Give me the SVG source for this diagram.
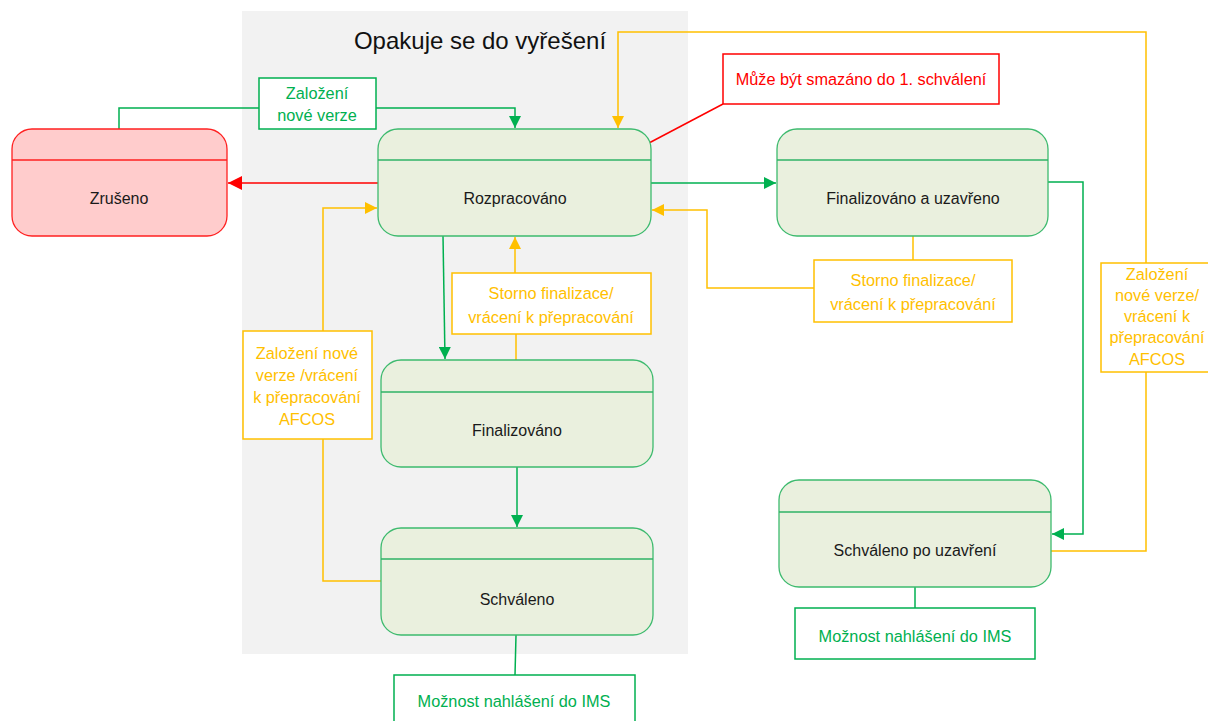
<svg xmlns="http://www.w3.org/2000/svg" width="1208" height="721" viewBox="0 0 1208 721">
  <style>
    text { font-family: "Liberation Sans", Arial, sans-serif; text-anchor: middle; }
    .state rect { fill: #EAF0DE; stroke: #3DBA6E; stroke-width: 1.3; }
    .state line { stroke: #2FB366; stroke-width: 1.3; }
    .state text { fill: #1a1a1a; font-size: 16px; }
    .cancel rect { fill: #FFCCCC; stroke: #FF2020; }
    .cancel line { stroke: #FF2020; }
    .lbl rect { fill: #FFFFFF; stroke-width: 1.5; }
    .lbl text { font-size: 16.3px; }
    .g rect { stroke: #00B050; } .g text { fill: #00B050; }
    .y rect { stroke: #FFC000; } .y text { fill: #FFC000; }
    .r rect { stroke: #FF0000; } .r text { fill: #FF0000; }
    .c { fill: none; stroke-width: 1.5; }
    .cg { stroke: #00B050; } .cy { stroke: #FFC000; } .cr { stroke: #FF0000; }
  </style>
  <defs>
    <marker id="ag" viewBox="0 0 10 10" refX="10" refY="5" markerWidth="13" markerHeight="12" markerUnits="userSpaceOnUse" orient="auto">
      <path d="M0,0 L10,5 L0,10 z" fill="#00B050"/>
    </marker>
    <marker id="ay" viewBox="0 0 10 10" refX="10" refY="5" markerWidth="13" markerHeight="12" markerUnits="userSpaceOnUse" orient="auto">
      <path d="M0,0 L10,5 L0,10 z" fill="#FFC000"/>
    </marker>
    <marker id="ar" viewBox="0 0 10 10" refX="10" refY="5" markerWidth="14" markerHeight="14" markerUnits="userSpaceOnUse" orient="auto">
      <path d="M0,0 L10,5 L0,10 z" fill="#FF0000"/>
    </marker>
  </defs>

  <!-- loop region -->
  <g id="loop">
    <rect x="242" y="11" width="446" height="643" fill="#F2F2F2"/>
    <text x="480" y="49" style="font-size:24px; fill:#111">Opakuje se do vyřešení</text>
  </g>

  <!-- connectors -->
  <g id="connectors">
    <polyline class="c cg" points="119,129 119,108 259,108"/>
    <polyline class="c cg" points="376,108 515,108 515,128" marker-end="url(#ag)"/>
    <line class="c cr" x1="378" y1="183" x2="228" y2="183" stroke-width="2.2" marker-end="url(#ar)"/>
    <polyline class="c cy" points="323,331 323,208 377,208" marker-end="url(#ay)"/>
    <polyline class="c cy" points="323,439 323,581 381,581"/>
    <line class="c cg" x1="443" y1="236" x2="445" y2="359" marker-end="url(#ag)"/>
    <line class="c cy" x1="516" y1="360" x2="516" y2="334"/>
    <line class="c cy" x1="515" y1="273" x2="515" y2="237" marker-end="url(#ay)"/>
    <line class="c cg" x1="517" y1="467" x2="517" y2="527" marker-end="url(#ag)"/>
    <line class="c cg" x1="651" y1="183" x2="776" y2="183" marker-end="url(#ag)"/>
    <line class="c cy" x1="913" y1="236" x2="913" y2="260"/>
    <polyline class="c cy" points="814,288 707,288 707,210 652,210" marker-end="url(#ay)"/>
    <line class="c cr" x1="723" y1="104" x2="649" y2="143"/>
    <polyline class="c cg" points="1048,182 1083,182 1083,534 1052,534" marker-end="url(#ag)"/>
    <polyline class="c cy" points="1051,551 1146,551 1146,372"/>
    <polyline class="c cy" points="1146,263 1146,32 618,32 618,128" marker-end="url(#ay)"/>
    <line class="c cg" x1="516" y1="635" x2="515" y2="675"/>
    <line class="c cg" x1="915" y1="587" x2="915" y2="608"/>
  </g>

  <!-- states -->
  <g id="zruseno" class="state cancel">
    <rect x="12" y="129" width="215" height="107" rx="20"/>
    <line x1="12" y1="160" x2="227" y2="160"/>
    <text x="119" y="204">Zrušeno</text>
  </g>
  <g id="rozpracovano" class="state">
    <rect x="378" y="129" width="273" height="107" rx="20"/>
    <line x1="378" y1="160" x2="651" y2="160"/>
    <text x="515" y="204">Rozpracováno</text>
  </g>
  <g id="finalizovano-uzavreno" class="state">
    <rect x="777" y="129" width="271" height="107" rx="20"/>
    <line x1="777" y1="160" x2="1048" y2="160"/>
    <text x="913" y="204">Finalizováno a uzavřeno</text>
  </g>
  <g id="finalizovano" class="state">
    <rect x="381" y="360" width="272" height="107" rx="20"/>
    <line x1="381" y1="392" x2="653" y2="392"/>
    <text x="517" y="436">Finalizováno</text>
  </g>
  <g id="schvaleno" class="state">
    <rect x="381" y="528" width="272" height="107" rx="20"/>
    <line x1="381" y1="559" x2="653" y2="559"/>
    <text x="517" y="605">Schváleno</text>
  </g>
  <g id="schvaleno-po-uzavreni" class="state">
    <rect x="779" y="480" width="272" height="107" rx="20"/>
    <line x1="779" y1="512" x2="1051" y2="512"/>
    <text x="915" y="556">Schváleno po uzavření</text>
  </g>

  <!-- transition labels and notes -->
  <g id="lbl-zalozeni" class="lbl g">
    <rect x="259" y="78" width="117" height="51"/>
    <text x="317" y="99">Založení</text>
    <text x="317" y="121">nové verze</text>
  </g>
  <g id="lbl-storno-stred" class="lbl y">
    <rect x="452" y="273" width="199" height="61"/>
    <text x="551" y="299">Storno finalizace/</text>
    <text x="551" y="323">vrácení k přepracování</text>
  </g>
  <g id="lbl-afcos-levy" class="lbl y">
    <rect x="243" y="331" width="129" height="108"/>
    <text x="307" y="359">Založení nové</text>
    <text x="307" y="381">verze /vrácení</text>
    <text x="307" y="403">k přepracování</text>
    <text x="307" y="425">AFCOS</text>
  </g>
  <g id="lbl-storno-pravy" class="lbl y">
    <rect x="814" y="260" width="198" height="62"/>
    <text x="913" y="286">Storno finalizace/</text>
    <text x="913" y="310">vrácení k přepracování</text>
  </g>
  <g id="lbl-afcos-pravy" class="lbl y">
    <rect x="1101" y="263" width="110" height="109"/>
    <text x="1157" y="280">Založení</text>
    <text x="1157" y="301">nové verze/</text>
    <text x="1157" y="322">vrácení k</text>
    <text x="1157" y="343">přepracování</text>
    <text x="1157" y="365">AFCOS</text>
  </g>
  <g id="note-smazano" class="lbl r">
    <rect x="723" y="54" width="276" height="50"/>
    <text x="861" y="85">Může být smazáno do 1. schválení</text>
  </g>
  <g id="note-ims-1" class="lbl g">
    <rect x="394" y="675" width="241" height="50"/>
    <text x="514" y="707">Možnost nahlášení do IMS</text>
  </g>
  <g id="note-ims-2" class="lbl g">
    <rect x="795" y="608" width="240" height="51"/>
    <text x="915" y="642">Možnost nahlášení do IMS</text>
  </g>
</svg>
